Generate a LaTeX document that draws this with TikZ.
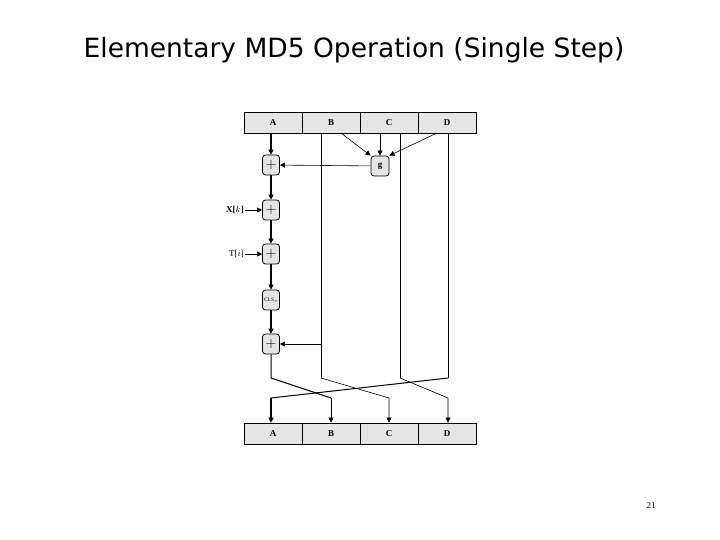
\documentclass[tikz,border=0pt]{standalone}
\usepackage{fontspec}
\setmainfont{Liberation Serif}
\newfontfamily\titlefont{DejaVu Sans}
\usetikzlibrary{arrows.meta}
\begin{document}
\begin{tikzpicture}[x=1pt,y=-1pt,
  cell/.style={draw,fill=gray!20,minimum width=58pt,minimum height=21pt,inner sep=0pt,font=\bfseries\small,line width=0.8pt},
  opbox/.style={draw,fill=gray!20,rounded corners=3pt,minimum width=17pt,minimum height=20pt,inner sep=0pt,line width=0.8pt,font=\Large},
  thick arr/.style={line width=1.2pt,-{Triangle[length=5pt,width=5pt]}},
  thin arr/.style={line width=0.6pt,-{Triangle[length=5pt,width=5pt]}},
  thin/.style={line width=0.6pt}]
\useasboundingbox (0,0) rectangle (720,540);
\node[font=\titlefont\fontsize{26.5}{30}\selectfont] (title) at (354,50) {Elementary MD5 Operation (Single Step)};
\node[font=\small] (pg) at (651,506) {21};
% registers
\foreach \n/\x in {A/273,B/331,C/389,D/447}{
  \node[cell] (t\n) at (\x,122.5) {\n};
  \node[cell] (b\n) at (\x,433.5) {\n};
}
\node[opbox] (p1) at (271,165) {$+$};
\node[opbox] (p2) at (271,210) {$+$};
\node[opbox] (p3) at (271,254) {$+$};
\node[opbox,font=\fontsize{5.5}{5.5}\selectfont] (cls) at (271,300) {CLS$_s$};
\node[opbox] (p4) at (271,344) {$+$};
\node[opbox,font=\bfseries\small,minimum width=18pt] (g) at (380,166) {g};
\node[font=\small\bfseries,anchor=east,inner sep=1pt] (xk) at (245,210) {X[$k$]};
\node[font=\small,anchor=east,inner sep=1pt] (ti) at (245,254) {T[$i$]};
% main chain
\draw[thick arr] (271,133) -- (p1);
\draw[thick arr] (p1) -- (p2);
\draw[thick arr] (p2) -- (p3);
\draw[thick arr] (p3) -- (cls);
\draw[thick arr] (cls) -- (p4);
\draw[thin arr] (xk) -- (p2);
\draw[thin arr] (ti) -- (p3);
\draw[thin arr] (g) -- (p1);
% inputs to g
\draw[thin arr] (341,133) -- (g.north west);
\draw[thin arr] (380,133) -- (g.north);
\draw[thin arr] (437,133) -- (g.north east);
% vertical lines
\draw[thin] (321,133) -- (321,378);
\draw[thin arr] (321,344) -- (p4);
\draw[thin] (400,133) -- (400,378);
\draw[thin] (448,133) -- (448,378);
% crossings
\draw[line width=1pt] (p4) -- (271,378) -- (331,398);
\draw[thin arr] (331,398) -- (bB.north -| 331,0);
\draw[thin arr] (321,378) -- (389,398) -- (bC.north);
\draw[thin arr] (400,378) -- (448,398) -- (bD.north -| 448,0);
\draw[line width=1pt] (448,378) -- (271,398);
\draw[thick arr] (271,398) -- (bA.north -| 271,0);
\end{tikzpicture}
\end{document}
